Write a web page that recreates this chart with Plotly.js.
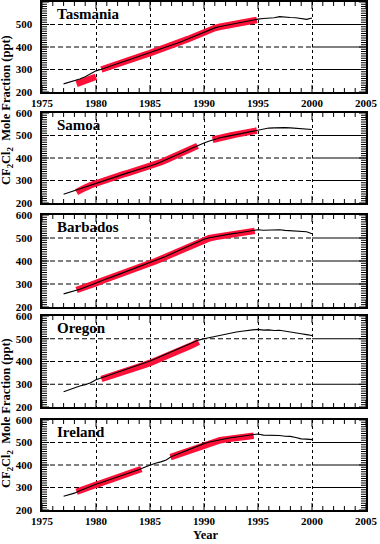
<!DOCTYPE html>
<html>
<head>
<meta charset="utf-8">
<script src="https://cdn.plot.ly/plotly-3.0.1.min.js"></script>
<style>
html,body{margin:0;padding:0;background:#fff;}
#chart{width:380px;height:544px;}
</style>
</head>
<body>
<div id="chart"></div>
<script>
const sites = ['Tasmania', 'Samoa', 'Barbados', 'Oregon', 'Ireland'];
const yTicks = [200, 300, 400, 500, 600];
const xTicks = [1975, 1980, 1985, 1990, 1995, 2000, 2005];

const years = [1977,1977.5,1978,1978.5,1979,1979.5,1980,1980.5,1981,1981.5,1982,1982.5,1983,1983.5,1984,1984.5,1985,1985.5,1986,1986.5,1987,1987.5,1988,1988.5,1989,1989.5,1990,1990.5,1991,1991.5,1992,1992.5,1993,1993.5,1994,1994.5,1995,1995.5,1996,1996.5,1997,1997.5,1998,1998.5,1999,1999.5,2000];

const tasmaniaLine = [236,243,250,258,268,281,294,301,310,318,326,334,342,350,358,366,374,382,390,399,408,417,426,436,446,457,468,477,485,491,496,501,505,509,514,518,524,527,528,530,535,532,531,530,527,523,529];
const samoaLine = [239,247,255,264,272,281,290,297,305,313,320,328,335,342,349,356,363,372,382,392,402,413,424,436,447,457,467,476,484,490,495,500,505,509,513,518,524,531,533,534,536,535,534,532,528,526,527];
const barbadosLine = [257,263,269,277,286,296,306,315,323,331,340,348,357,365,374,383,392,401,411,421,432,443,454,465,476,486,495,501,506,510,514,518,521,524,528,533,536,534,535,533,536,533,532,531,530,527,518];
const oregonLine = [267,276,283,292,298,307,320,328,337,345,352,360,368,376,384,393,402,412,422,432,442,452,462,473,484,494,500,505,512,518,522,528,530,533,537,539,541,538,539,536,537,534,530,526,522,518,514];
const irelandLine = [261,268,275,286,296,305,314,322,330,338,346,354,363,371,380,390,400,408,414,422,438,448,458,468,477,486,495,502,508,513,517,521,525,528,532,537,538,533,533,530,531,528,527,522,516,515,513];

const tasmaniaRedX = [1978.2,1978.5,1979,1979.5,1980,1980.2,1980.5,1981,1981.5,1982,1982.5,1983,1983.5,1984,1984.5,1985,1985.5,1986,1986.5,1987,1987.5,1988,1988.5,1989,1989.5,1990,1990.5,1991,1991.5,1992,1992.5,1993,1993.5,1994,1994.5,1994.9];
const tasmaniaRedY = [236,242,250,259,268,null,300,309,317,325,333,341,349,357,365,373,381,389,398,407,416,425,435,445,456,467,476,484,490,495,500,504,508,513,517,520];

const samoaRedX = [1978.2,1978.5,1979,1979.5,1980,1980.5,1981,1981.5,1982,1982.5,1983,1983.5,1984,1984.5,1985,1985.5,1986,1986.5,1987,1987.5,1988,1988.5,1989,1989.4,1990,1990.8,1991,1991.5,1992,1992.5,1993,1993.5,1994,1994.5,1994.9];
const samoaRedY = [248,258,268,279,288,296,304,312,319,327,334,341,348,355,363,372,381,391,401,412,423,435,446,454,null,481,484,490,495,500,505,509,513,518,522];

const barbadosRedX = [1978.2,1978.5,1979,1979.5,1980,1980.5,1981,1981.5,1982,1982.5,1983,1983.5,1984,1984.5,1985,1985.5,1986,1986.5,1987,1987.5,1988,1988.5,1989,1989.5,1990,1990.5,1991,1991.5,1992,1992.5,1993,1993.5,1994,1994.7];
const barbadosRedY = [274,278,285,294,304,313,321,329,338,346,355,363,372,381,390,399,409,419,430,441,452,463,474,484,493,499,504,508,512,516,519,522,526,531];

const oregonRedX = [1980.5,1981,1981.5,1982,1982.5,1983,1983.5,1984,1984.5,1985,1985.5,1986,1986.5,1987,1987.5,1988,1988.5,1989,1989.5];
const oregonRedY = [323,330,337,345,352,360,368,376,385,394,403,413,423,433,443,453,464,474,486];

const irelandRedX = [1978.2,1978.5,1979,1979.5,1980,1980.5,1981,1981.5,1982,1982.5,1983,1983.5,1984,1984.2,1985,1986.9,1987.5,1988,1988.5,1989,1989.5,1990,1990.5,1991,1991.5,1992,1992.5,1993,1993.5,1994,1994.6];
const irelandRedY = [281,285,294,303,312,320,328,336,344,352,361,369,378,382,null,435,445,455,465,474,483,492,499,505,510,514,518,521,524,527,530];

const lines = [tasmaniaLine, samoaLine, barbadosLine, oregonLine, irelandLine];
const redX = [tasmaniaRedX, samoaRedX, barbadosRedX, oregonRedX, irelandRedX];
const redY = [tasmaniaRedY, samoaRedY, barbadosRedY, oregonRedY, irelandRedY];

// layout in pixels
const W = 380, H = 544;
const plotLeft = 42, plotRight = 366;
const panelTops = [2, 113, 215, 316, 420];
const panelBottoms = [92, 203, 307, 407, 510];
const RED = '#ff1038';
const FONT = 'Liberation Serif, Times New Roman, serif';
const NP = sites.length;
const X_MINOR = 1, Y_MINOR = 10;

const data = [];
const layout = {
  width: W, height: H,
  margin: {l: 0, r: 0, t: 0, b: 0},
  paper_bgcolor: '#fff', plot_bgcolor: '#fff',
  showlegend: false,
  font: {family: FONT, size: 11, color: '#000'},
  shapes: [], annotations: []
};

function axName(k) { return k === 1 ? '' : String(k); }

for (let i = 0; i < NP; i++) {
  const n = i + 1;
  const xa = 'x' + axName(n), ya = 'y' + axName(n);
  const xRange = [xTicks[0], xTicks[xTicks.length - 1]];
  const yRange = [yTicks[0], yTicks[yTicks.length - 1]];

  data.push({x: redX[i], y: redY[i], xaxis: xa, yaxis: ya, mode: 'lines',
    line: {color: RED, width: 6.5}, connectgaps: false, hoverinfo: 'skip'});
  data.push({x: years, y: lines[i], xaxis: xa, yaxis: ya, mode: 'lines',
    line: {color: '#000', width: 1.1}, hoverinfo: 'skip'});

  const showX = (i === 0 || i === NP - 1);
  layout['xaxis' + axName(n)] = {
    domain: [plotLeft / W, plotRight / W], anchor: ya, range: xRange,
    tickmode: 'linear', tick0: xTicks[0], dtick: xTicks[1] - xTicks[0],
    ticks: '', 
    showline: true, linecolor: '#000', linewidth: 1.6, mirror: true,
    showgrid: true, gridcolor: '#000', gridwidth: 1, griddash: '3px,3px',
    zeroline: false, showticklabels: showX,
    tickfont: {family: FONT, size: 11, color: '#000', weight: 'bold'},
    fixedrange: true
  };
  layout['yaxis' + axName(n)] = {
    domain: [(H - panelBottoms[i]) / H, (H - panelTops[i]) / H], anchor: xa, range: yRange,
    tickmode: 'linear', tick0: yTicks[0], dtick: yTicks[1] - yTicks[0],
    ticks: '', ticklabelstandoff: 6,
    showline: true, linecolor: '#000', linewidth: 1.6, mirror: true,
    showgrid: false, zeroline: false,
    tickfont: {family: FONT, size: 11, color: '#000', weight: 'bold'},
    fixedrange: true
  };

  // tick marks drawn inside the frame on all four sides (pixel-length shapes)
  for (let t = xRange[0]; t <= xRange[1]; t += X_MINOR) {
    const len = ((t - xTicks[0]) % (xTicks[1] - xTicks[0]) === 0) ? 7 : 4;
    [[0, len], [1, -len]].forEach(([anc, l]) => {
      layout.shapes.push({type: 'line', xref: xa, yref: ya + ' domain', ysizemode: 'pixel',
        yanchor: anc, x0: t, x1: t, y0: 0, y1: l, line: {color: '#000', width: 1}});
    });
  }
  for (let v = yRange[0]; v <= yRange[1]; v += Y_MINOR) {
    const len = ((v - yTicks[0]) % (yTicks[1] - yTicks[0]) === 0) ? 7 : 5;
    [[0, len], [1, -len]].forEach(([anc, l]) => {
      layout.shapes.push({type: 'line', xref: xa + ' domain', yref: ya, xsizemode: 'pixel',
        xanchor: anc, x0: 0, x1: l, y0: v, y1: v, line: {color: '#000', width: 1}});
    });
  }
  // horizontal grid lines at inner y ticks: dashed to 2000, solid after
  yTicks.slice(1, -1).forEach(v => {
    layout.shapes.push({type: 'line', xref: xa, yref: ya, x0: 1975, x1: 2000, y0: v, y1: v,
      line: {color: '#000', width: 1, dash: '5px,3px'}, layer: 'below'});
    layout.shapes.push({type: 'line', xref: xa, yref: ya, x0: 2000, x1: 2005, y0: v, y1: v,
      line: {color: '#000', width: 1}, layer: 'below'});
  });
  layout.annotations.push({
    text: '<b>' + sites[i] + '</b>', xref: xa, yref: ya + ' domain',
    x: 1976.2, y: 0.87, xanchor: 'left', yanchor: 'middle', showarrow: false,
    font: {family: FONT, size: 15, color: '#000'}
  });
}

const yTitle = '<b>CF<sub>2</sub>Cl<sub>2</sub>  Mole Fraction (ppt)</b>';
[110, 413].forEach(py => {
  layout.annotations.push({text: yTitle, xref: 'paper', yref: 'paper',
    x: 7 / W, y: (H - py) / H, xanchor: 'center', yanchor: 'middle',
    textangle: -90, showarrow: false, borderpad: 0,
    font: {family: FONT, size: 12.5, color: '#000'}});
});
layout.annotations.push({text: '<b>Year</b>', xref: 'paper', yref: 'paper',
  x: 205 / W, y: (H - 535) / H, xanchor: 'center', yanchor: 'middle',
  showarrow: false, borderpad: 0, font: {family: FONT, size: 12.5, color: '#000'}});

Plotly.newPlot('chart', data, layout, {staticPlot: true, displayModeBar: false});
</script>
</body>
</html>
